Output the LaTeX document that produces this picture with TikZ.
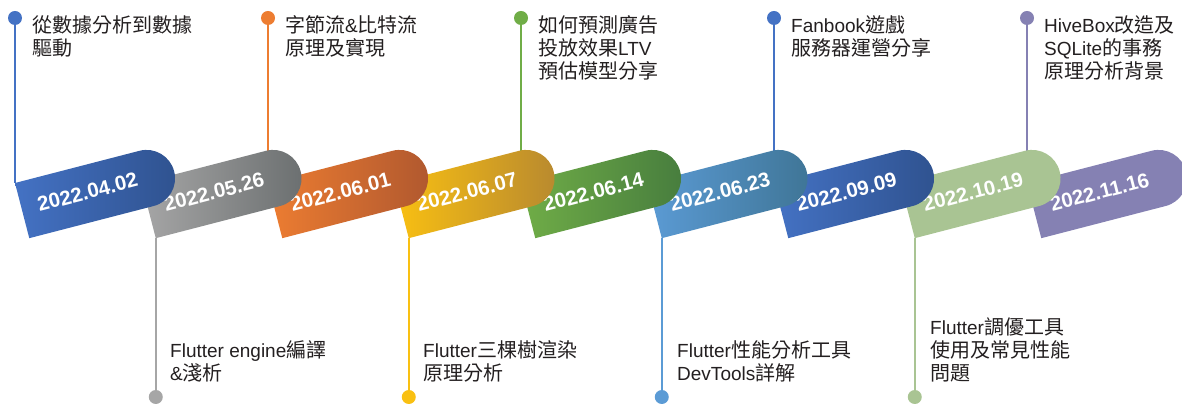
\documentclass[tikz,border=0pt]{standalone}
\usepackage{fontspec}
\setmainfont{Liberation Sans}
\newfontfamily\cjk{Noto Sans CJK TC}
\newcommand\zh[1]{{\cjk\fontsize{20}{23}\selectfont #1}}
\newcommand\tlab[1]{\vtop{\baselineskip=23pt\lineskiplimit=-20pt #1}}
\newcommand\blab[1]{\vbox{\baselineskip=23pt\lineskiplimit=-20pt #1}}
\definecolor{txt}{HTML}{231F20}
\definecolor{cA}{HTML}{4472C4}\definecolor{cAd}{HTML}{2F528F}
\definecolor{cB}{HTML}{A6A6A6}\definecolor{cBd}{HTML}{6B6F70}
\definecolor{cC}{HTML}{ED7D31}\definecolor{cCd}{HTML}{B0582F}
\definecolor{cD}{HTML}{F9C012}\definecolor{cDd}{HTML}{B8892F}
\definecolor{cE}{HTML}{70AD47}\definecolor{cEd}{HTML}{477D3E}
\definecolor{cF}{HTML}{5B9BD5}\definecolor{cFd}{HTML}{3F7596}
\definecolor{cG}{HTML}{4472C4}\definecolor{cGd}{HTML}{2F528F}
\definecolor{cH}{HTML}{A9C493}\definecolor{cHd}{HTML}{A9C493}
\definecolor{cI}{HTML}{8581B3}\definecolor{cId}{HTML}{8581B3}
\tikzset{
  conn/.style={line width=2.5pt},
  dotnode/.style={circle, inner sep=0pt, minimum size=14pt},
  datetext/.style={text=white, font=\bfseries\fontsize{20.5}{24}\selectfont, rotate=14.5, inner sep=0pt},
  toplabel/.style={anchor=base west, inner sep=0pt, text=txt, font=\fontsize{19}{23}\selectfont},
}
% #1 index, #2 left colour, #3 right colour, #4 date
\newcommand\band[4]{%
  \begin{scope}[shift={(15+126.5*#1,223)}, rotate=14.5]
    \shade[left color=#2, right color=#3] (0,0) -- (128.5,0)
      arc[start angle=90, end angle=-90, radius=28.5] -- (0,-57) -- cycle;
    \node[datetext] (date#1) at (68,-27) {#4};
  \end{scope}}
\begin{document}
\begin{tikzpicture}[x=1pt,y=1pt]
\useasboundingbox (0,0) rectangle (1182,406);
\clip (0,0) rectangle (1182,406);
% corners
\foreach \i in {0,...,8}{
  \coordinate (tl\i) at (15+126.5*\i,223);
  \coordinate (bl\i) at (29.27+126.5*\i,167.82);
}
% top connectors
\foreach \i/\c in {0/cA,2/cC,4/cE,6/cG,8/cI}{
  \node[dotnode, fill=\c] (dot\i) at (15+126.5*\i,388) {};
  \draw[conn, \c] (dot\i.center) -- (tl\i);
}
% bottom connectors
\foreach \i/\c in {1/cB,3/cD,5/cF,7/cH}{
  \node[dotnode, fill=\c] (dot\i) at (29.27+126.5*\i,9) {};
  \draw[conn, \c] (bl\i) -- (dot\i.center);
}
% bands, right to left
\band{8}{cI}{cId}{2022.11.16}
\band{7}{cH}{cHd}{2022.10.19}
\band{6}{cG}{cGd}{2022.09.09}
\band{5}{cF}{cFd}{2022.06.23}
\band{4}{cE}{cEd}{2022.06.14}
\band{3}{cD}{cDd}{2022.06.07}
\band{2}{cC}{cCd}{2022.06.01}
\band{1}{cB}{cBd}{2022.05.26}
\band{0}{cA}{cAd}{2022.04.02}
% top labels
\node[toplabel] (lab0) at (32,373) {\tlab{\hbox{\zh{從數據分析到數據}}\hbox{\zh{驅動}}}};
\node[toplabel] (lab2) at (285,373) {\tlab{\hbox{\zh{字節流}\&\zh{比特流}}\hbox{\zh{原理及實現}}}};
\node[toplabel] (lab4) at (538,373) {\tlab{\hbox{\zh{如何預測廣告}}\hbox{\zh{投放效果}LTV}\hbox{\zh{預估模型分享}}}};
\node[toplabel] (lab6) at (791,373) {\tlab{\hbox{Fanbook\zh{遊戲}}\hbox{\zh{服務器運營分享}}}};
\node[toplabel] (lab8) at (1044,373) {\tlab{\hbox{HiveBox\zh{改造及}}\hbox{SQLite\zh{的事務}}\hbox{\zh{原理分析背景}}}};
% bottom labels
\node[toplabel] (lab1) at (170,25) {\blab{\hbox{Flutter engine\zh{編譯}}\hbox{\&\zh{淺析}}}};
\node[toplabel] (lab3) at (423,25) {\blab{\hbox{Flutter\zh{三棵樹渲染}}\hbox{\zh{原理分析}}}};
\node[toplabel] (lab5) at (677,25) {\blab{\hbox{Flutter\zh{性能分析工具}}\hbox{DevTools\zh{詳解}}}};
\node[toplabel] (lab7) at (930,25) {\blab{\hbox{Flutter\zh{調優工具}}\hbox{\zh{使用及常見性能}}\hbox{\zh{問題}}}};
\end{tikzpicture}
\end{document}
